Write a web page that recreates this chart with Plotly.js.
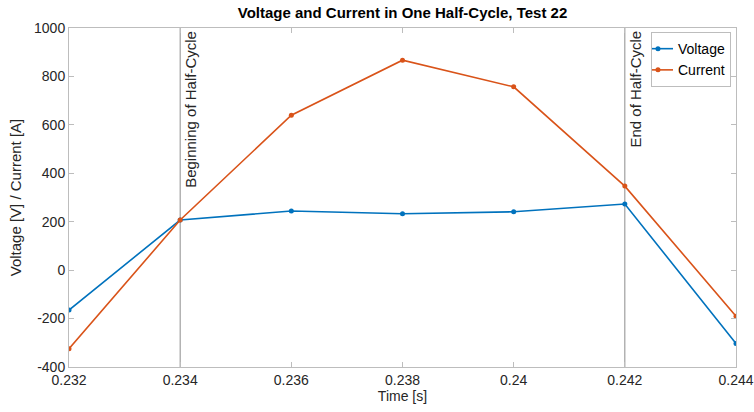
<!DOCTYPE html>
<html>
<head>
<meta charset="utf-8">
<script src="https://cdn.plot.ly/plotly-3.0.1.min.js"></script>
<style>
  html, body { margin: 0; padding: 0; background: #fff; }
  #chart { width: 754px; height: 412px; }
</style>
</head>
<body>
<div id="chart"></div>
<script>
// Sample times [s] across the half-cycle
const time = [0.232, 0.234, 0.236, 0.238, 0.240, 0.242, 0.244];
// Measured voltage [V]
const voltage = [-165, 207, 244, 233, 241, 273, -303];
// Measured current [A]
const current = [-325, 207, 640, 867, 757, 347, -190];

// Half-cycle markers
const halfCycleStart = 0.234;
const halfCycleEnd = 0.242;

const xTicks = [0.232, 0.234, 0.236, 0.238, 0.240, 0.242, 0.244];
const xTickText = ['0.232', '0.234', '0.236', '0.238', '0.24', '0.242', '0.244'];
const yTicks = [-400, -200, 0, 200, 400, 600, 800, 1000];
const yTickText = ['-400', '-200', '0', '200', '400', '600', '800', '1000'];

const font = '"Liberation Sans", Arial, Helvetica, sans-serif';
const axisColor = '#262626';
const markerLineColor = '#8c8c8c';

const traces = [
  {
    x: time, y: voltage, name: 'Voltage', type: 'scatter', mode: 'lines+markers',
    line: { color: '#0072BD', width: 1.6 },
    marker: { color: '#0072BD', size: 5 }
  },
  {
    x: time, y: current, name: 'Current', type: 'scatter', mode: 'lines+markers',
    line: { color: '#D95319', width: 1.6 },
    marker: { color: '#D95319', size: 5 }
  }
];

const axisCommon = {
  showgrid: false, zeroline: false, showline: true, mirror: 'ticks',
  linecolor: '#bdbdbd', linewidth: 1,
  ticks: 'inside', ticklen: 5, tickcolor: '#bdbdbd',
  tickfont: { family: font, size: 14, color: axisColor }
};

const layout = {
  width: 754, height: 412,
  margin: { l: 69, r: 18, t: 28, b: 45 },
  paper_bgcolor: '#ffffff', plot_bgcolor: '#ffffff',
  title: {
    text: '<b>Voltage and Current in One Half-Cycle, Test 22</b>',
    font: { family: font, size: 15, color: '#000' },
    x: 0.5, xref: 'paper', xanchor: 'center', y: 0.97, yanchor: 'middle'
  },
  xaxis: Object.assign({}, axisCommon, {
    range: [0.232, 0.244], tickvals: xTicks, ticktext: xTickText,
    title: { text: 'Time [s]', font: { family: font, size: 14, color: axisColor }, standoff: 4 }
  }),
  yaxis: Object.assign({}, axisCommon, {
    range: [-400, 1000], tickvals: yTicks, ticktext: yTickText,
    title: { text: 'Voltage [V] / Current [A]', font: { family: font, size: 15, color: axisColor }, standoff: 8 }
  }),
  shapes: [halfCycleStart, halfCycleEnd].map(t => ({
    type: 'line', xref: 'x', yref: 'paper', x0: t, x1: t, y0: 0, y1: 1,
    line: { color: markerLineColor, width: 1 }, layer: 'below'
  })),
  annotations: [
    { x: halfCycleStart, text: 'Beginning of Half-Cycle' },
    { x: halfCycleEnd, text: 'End of Half-Cycle' }
  ].map(a => ({
    x: a.x, xref: 'x', y: 0.998, yref: 'paper', text: a.text,
    textangle: -90, xanchor: 'left', yanchor: 'top', xshift: 0,
    showarrow: false, font: { family: font, size: 15, color: axisColor }
  })),
  legend: {
    x: 0.9925, xanchor: 'right', y: 0.988, yanchor: 'top',
    bgcolor: '#ffffff', bordercolor: '#bdbdbd', borderwidth: 1,
    font: { family: font, size: 14, color: '#000' },
    tracegroupgap: 0, itemwidth: 30, indentation: -14
  },
  showlegend: true
};

Plotly.newPlot('chart', traces, layout, { displayModeBar: false, staticPlot: true });
</script>
</body>
</html>
